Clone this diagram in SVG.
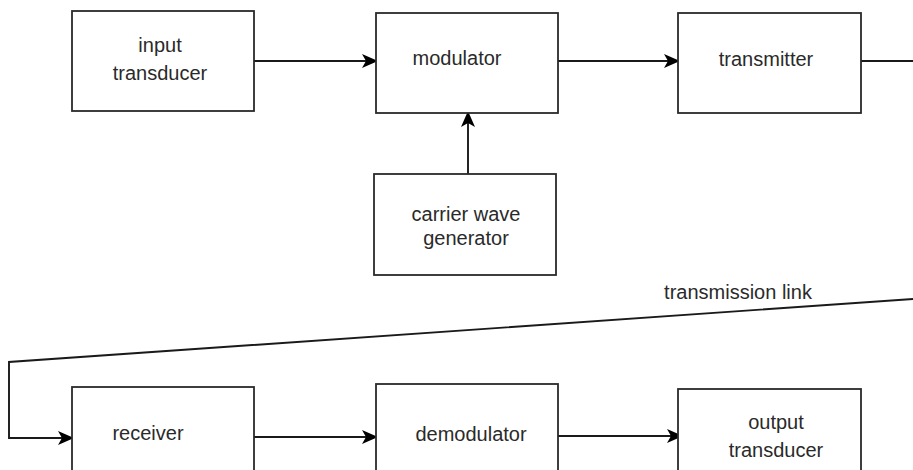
<svg xmlns="http://www.w3.org/2000/svg" width="913" height="470" viewBox="0 0 913 470">
<style>
.box{fill:#fff;stroke:#2a2a2a;stroke-width:1.8}
.lbl{font-family:"Liberation Sans",Arial,sans-serif;font-size:20px;fill:#2a2a2a;text-anchor:middle}
.wire{fill:none;stroke:#1a1a1a;stroke-width:1.9}
</style>
<defs>
<marker id="arr" viewBox="0 0 16 14" refX="15" refY="7" markerWidth="16" markerHeight="14" markerUnits="userSpaceOnUse" orient="auto">
<path d="M0,0 L16,7 L0,14 L4,7 Z" fill="#000"/>
</marker>
</defs>
<rect width="913" height="470" fill="#fff"/>
<g id="connectors">
<line class="wire" x1="254" y1="61" x2="377" y2="61" marker-end="url(#arr)"/>
<line class="wire" x1="554" y1="61" x2="679" y2="61" marker-end="url(#arr)"/>
<line class="wire" x1="468" y1="174" x2="468" y2="112" marker-end="url(#arr)"/>
<line class="wire" x1="861" y1="61" x2="913" y2="61"/>
<polyline class="wire" points="913,299 9,362 9,438 73,438" marker-end="url(#arr)" stroke-width="1.6"/>
<line class="wire" x1="252" y1="437" x2="377" y2="437" marker-end="url(#arr)"/>
<line class="wire" x1="558" y1="436" x2="682" y2="436" marker-end="url(#arr)"/>
<text class="lbl" x="738" y="299">transmission link</text>
</g>
<g id="input-transducer">
<rect class="box" x="72" y="11" width="182" height="100"/>
<text class="lbl" x="160" y="52">input</text>
<text class="lbl" x="160" y="80">transducer</text>
</g>
<g id="modulator">
<rect class="box" x="376" y="13" width="182" height="100"/>
<text class="lbl" x="457" y="65">modulator</text>
</g>
<g id="transmitter">
<rect class="box" x="678" y="13" width="183" height="100"/>
<text class="lbl" x="766" y="66">transmitter</text>
</g>
<g id="carrier-wave-generator">
<rect class="box" x="374" y="174" width="182" height="101"/>
<text class="lbl" x="466" y="221">carrier wave</text>
<text class="lbl" x="466" y="245">generator</text>
</g>
<g id="receiver">
<rect class="box" x="72" y="387" width="182" height="100"/>
<text class="lbl" x="148" y="440">receiver</text>
</g>
<g id="demodulator">
<rect class="box" x="376" y="384" width="182" height="100"/>
<text class="lbl" x="471" y="441">demodulator</text>
</g>
<g id="output-transducer">
<rect class="box" x="678" y="389" width="183" height="100"/>
<text class="lbl" x="776" y="429">output</text>
<text class="lbl" x="776" y="457">transducer</text>
</g>
</svg>
